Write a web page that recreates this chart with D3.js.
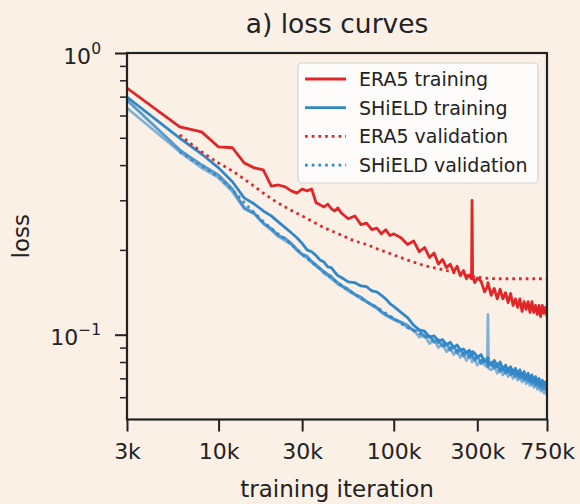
<!DOCTYPE html>
<html><head><meta charset="utf-8">
<script src="https://cdn.jsdelivr.net/npm/d3@7"></script>
<style>
html,body{margin:0;padding:0;background:#faf0e6;}
svg{display:block;font-family:"DejaVu Sans",sans-serif;}
</style></head><body>
<svg id="chart" width="580" height="504"></svg>
<script>
// training iterations (thousands) at which training loss was logged
const iterK = [3, 6,8,10,12,14,16,18,20,22,24,26,28,30,32,34,36,38,40,42,44,46,48,50,
  55,60,65,70,75,80,85,90,95,100,
  110,120,130,140,150,160,170,180,190,200,210,220,230,240,250,260,270,278,280,282,290,300,
  315,330,342,345,348,360,375,390,405,420,435,450,465,480,495,510,525,540,555,570,585,600,615,630,645,660,675,690,705,720,735,750];

const era5Train = [0.751, 0.547,0.525,0.464,0.461,0.407,0.391,0.385,0.337,0.340,0.335,0.324,0.318,0.329,0.324,0.329,0.294,0.289,0.284,0.291,0.280,0.275,0.282,0.271,
  0.258,0.264,0.246,0.249,0.236,0.239,0.228,0.236,0.225,0.228,
  0.221,0.209,0.215,0.197,0.204,0.188,0.195,0.178,0.185,0.173,0.178,0.167,0.175,0.162,0.169,0.158,0.163,0.158,0.300,0.161,0.153,0.159,
  0.155,0.142,0.148,0.153,0.150,0.138,0.146,0.134,0.145,0.134,0.141,0.130,0.140,0.127,0.134,0.125,0.134,0.121,0.131,0.123,0.131,0.120,0.131,0.120,0.127,0.118,0.127,0.116,0.127,0.119,0.125,0.116];

// three SHiELD training runs
const shieldTrainA = [0.698, 0.499,0.438,0.391,0.349,0.306,0.291,0.275,0.264,0.251,0.240,0.230,0.221,0.211,0.200,0.197,0.191,0.184,0.181,0.174,0.173,0.167,0.162,0.160,
  0.154,0.153,0.149,0.148,0.143,0.142,0.138,0.134,0.129,0.126,
  0.120,0.115,0.108,0.104,0.103,0.098,0.099,0.095,0.096,0.092,0.094,0.090,0.092,0.088,0.089,0.086,0.088,0.085,0.084,0.087,0.086,0.083,
  0.085,0.080,0.081,0.083,0.079,0.078,0.081,0.077,0.080,0.075,0.078,0.074,0.077,0.073,0.076,0.072,0.075,0.071,0.074,0.070,0.073,0.069,0.072,0.068,0.071,0.067,0.070,0.066,0.069,0.066,0.068,0.065];

const shieldTrainB = [0.681, 0.453,0.401,0.369,0.329,0.283,0.270,0.249,0.238,0.225,0.220,0.211,0.201,0.193,0.190,0.182,0.177,0.172,0.167,0.164,0.161,0.156,0.153,0.150,
  0.145,0.139,0.136,0.131,0.128,0.125,0.121,0.118,0.116,0.114,
  0.111,0.108,0.103,0.104,0.098,0.099,0.094,0.096,0.091,0.093,0.088,0.091,0.086,0.089,0.084,0.087,0.083,0.086,0.085,0.084,0.081,0.084,
  0.079,0.082,0.080,0.077,0.078,0.080,0.076,0.079,0.074,0.077,0.073,0.076,0.072,0.075,0.071,0.074,0.070,0.072,0.069,0.071,0.068,0.070,0.067,0.069,0.066,0.068,0.065,0.068,0.064,0.067,0.064,0.066];

const shieldTrainC = [0.638, 0.446,0.391,0.361,0.322,0.280,0.268,0.248,0.235,0.223,0.216,0.209,0.199,0.192,0.187,0.181,0.175,0.171,0.165,0.162,0.158,0.155,0.151,0.149,
  0.143,0.139,0.134,0.131,0.127,0.124,0.120,0.117,0.115,0.113,
  0.110,0.106,0.104,0.098,0.100,0.093,0.096,0.090,0.093,0.087,0.090,0.085,0.088,0.083,0.086,0.081,0.084,0.082,0.080,0.083,0.082,0.078,
  0.081,0.078,0.077,0.118,0.076,0.075,0.078,0.073,0.076,0.072,0.075,0.071,0.074,0.070,0.073,0.069,0.072,0.068,0.071,0.067,0.070,0.066,0.069,0.065,0.068,0.064,0.067,0.063,0.066,0.062,0.064,0.061];

// validation iterations (thousands) and losses
const valIterK = [6,8,10,12,15,20,25,30,40,50,60,70,80,100,120,150,200,250,300,400,500,600,750];
const era5Val = [0.512,0.446,0.407,0.381,0.346,0.304,0.280,0.264,0.240,0.226,0.215,0.209,0.202,0.192,0.184,0.176,0.169,0.163,0.160,0.158,0.158,0.158,0.158];
const shieldVal = [0.446,0.397,0.362,0.326,0.282,0.238,0.214,0.193,0.167,0.150,0.139,0.131,0.125,0.114,0.106,0.099,0.091,0.086,0.082,0.076,0.072,0.069,0.065];

const xTicks = [3,10,30,100,300,750];
const xTickLabels = ["3k","10k","30k","100k","300k","750k"];
const yMajor = [1, 0.1];
const yMajorExp = ["0", "\u22121"];
const yMinor = [0.06,0.07,0.08,0.09,0.2,0.3,0.4,0.5,0.6,0.7,0.8,0.9];

const legendLabels = ["ERA5 training","SHiELD training","ERA5 validation","SHiELD validation"];

const RED = "#e12628", BLUE = "#3287c8", INK = "#222";

const svg = d3.select("#chart");
const x = d3.scaleLog().domain([3, 750]).range([127, 547]);
const y = d3.scaleLog().domain([0.05, 1]).range([419.5, 53]);
const [x0, x1] = x.range(), [y0, y1] = [y.range()[1], y.range()[0]];

svg.append("rect").attr("width", 580).attr("height", 504).attr("fill", "#faf0e6");

svg.append("defs").append("clipPath").attr("id", "plotClip")
  .append("rect").attr("x", x0).attr("y", y0).attr("width", x1 - x0).attr("height", y1 - y0);

const plot = svg.append("g").attr("clip-path", "url(#plotClip)");

const line = d3.line().x(d => x(d[0])).y(d => y(d[1]));
const smooth = d3.line().x(d => x(d[0])).y(d => y(d[1])).curve(d3.curveMonotoneX);
const zip = (a, b) => a.map((v, i) => [v, b[i]]);

function drawLine(gen, xs, ys, color, opts) {
  plot.append("path")
    .attr("d", gen(zip(xs, ys)))
    .attr("fill", "none")
    .attr("stroke", color)
    .attr("stroke-width", opts.width || 2.8)
    .attr("stroke-opacity", opts.opacity == null ? 1 : opts.opacity)
    .attr("stroke-linejoin", "round")
    .attr("stroke-dasharray", opts.dash || null);
}

// SHiELD validation sits underneath the SHiELD training runs
drawLine(smooth, valIterK, shieldVal, BLUE, {dash: "2.7,4", opacity: 0.9});
drawLine(line, iterK, era5Train, RED, {});
drawLine(line, iterK, shieldTrainC, BLUE, {opacity: 0.6});
drawLine(line, iterK, shieldTrainB, BLUE, {opacity: 0.8});
drawLine(line, iterK, shieldTrainA, BLUE, {opacity: 1});
drawLine(smooth, valIterK, era5Val, RED, {dash: "2.7,4"});

// axes
const xAxis = d3.axisBottom(x).tickValues(xTicks).tickFormat((d, i) => xTickLabels[i]).tickSize(12).tickPadding(12);
const gx = svg.append("g").attr("transform", `translate(0,${y1})`).call(xAxis);
gx.select(".domain").remove();
gx.selectAll(".tick line").attr("stroke", INK).attr("stroke-width", 2);
gx.selectAll(".tick text").attr("fill", INK).attr("font-size", 22).attr("font-family", "DejaVu Sans");

const yMinorAxis = d3.axisLeft(y).tickValues(yMinor).tickFormat("").tickSize(7);
const gym = svg.append("g").attr("transform", `translate(${x0},0)`).call(yMinorAxis);
gym.select(".domain").remove();
gym.selectAll(".tick line").attr("stroke", INK).attr("stroke-width", 1.5);

const yAxis = d3.axisLeft(y).tickValues(yMajor).tickFormat("").tickSize(12);
const gy = svg.append("g").attr("transform", `translate(${x0},0)`).call(yAxis);
gy.select(".domain").remove();
gy.selectAll(".tick line").attr("stroke", INK).attr("stroke-width", 2);
gy.selectAll(".tick").each(function(d, i) {
  const t = d3.select(this).append("text")
    .attr("x", -26).attr("y", 10)
    .attr("text-anchor", "end").attr("fill", INK)
    .attr("font-size", 22).attr("font-family", "DejaVu Sans");
  t.append("tspan").text("10");
  t.append("tspan").attr("dy", -10).attr("font-size", 15.5).text(yMajorExp[i]);
});

// frame
svg.append("rect").attr("x", x0).attr("y", y0).attr("width", x1 - x0).attr("height", y1 - y0)
  .attr("fill", "none").attr("stroke", INK).attr("stroke-width", 2.2);

// labels
svg.append("text").attr("x", (x0 + x1) / 2).attr("y", 33).attr("text-anchor", "middle")
  .attr("font-size", 26.5).attr("fill", INK).text("a) loss curves");
svg.append("text").attr("x", (x0 + x1) / 2).attr("y", 497).attr("text-anchor", "middle")
  .attr("font-size", 23).attr("fill", INK).text("training iteration");
svg.append("text").attr("transform", `translate(29,${(y0 + y1) / 2}) rotate(-90)`).attr("text-anchor", "middle")
  .attr("font-size", 23).attr("fill", INK).text("loss");

// legend
const leg = svg.append("g");
leg.append("rect").attr("x", 298).attr("y", 63).attr("width", 240).attr("height", 120).attr("rx", 4)
  .attr("fill", "#ffffff").attr("fill-opacity", 0.8).attr("stroke", "#d2d2d2").attr("stroke-width", 1.2);
const legStyle = [
  {color: RED, dash: null}, {color: BLUE, dash: null},
  {color: RED, dash: "2.7,4"}, {color: BLUE, dash: "2.7,4"}
];
legendLabels.forEach((lab, i) => {
  const cy = 79 + i * 28.7;
  leg.append("line").attr("x1", 305).attr("x2", 346).attr("y1", cy).attr("y2", cy)
    .attr("stroke", legStyle[i].color).attr("stroke-width", 2.8).attr("stroke-dasharray", legStyle[i].dash);
  leg.append("text").attr("x", 359).attr("y", cy + 7).attr("font-size", 19).attr("fill", INK).text(lab);
});
</script>
</body></html>
